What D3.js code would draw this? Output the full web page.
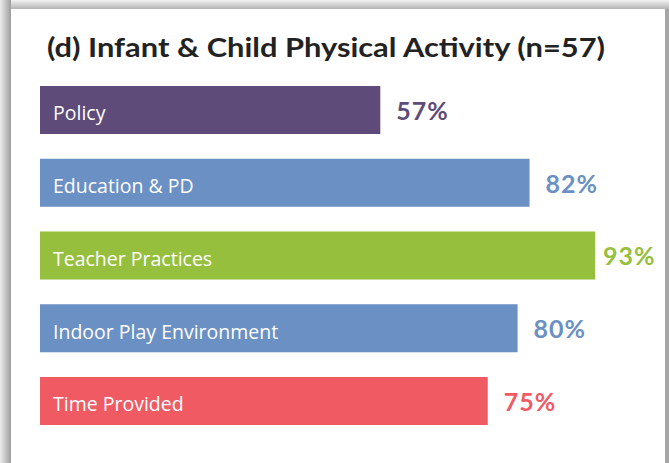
<!DOCTYPE html>
<html>
<head>
<meta charset="utf-8">
<script src="https://cdn.jsdelivr.net/npm/d3@7"></script>
<style>
  html, body { margin: 0; padding: 0; background: #ffffff; }
  svg { display: block; }
</style>
</head>
<body>
<svg id="chart" width="669" height="463"></svg>
<script>
// Share of programmes meeting each best-practice area
const titleText = "(d) Infant & Child Physical Activity (n=57)";
const categories = ["Policy", "Education & PD", "Teacher Practices", "Indoor Play Environment", "Time Provided"];
const values = [57, 82, 93, 80, 75];
const barColors = ["#5f4b79", "#6b90c4", "#95bf3d", "#6b90c4", "#ef5a63"];

const W = 669, H = 463;
const svg = d3.select("#chart");
const defs = svg.append("defs");

// Card with soft shadow on the left and top edges
const gLeft = defs.append("linearGradient").attr("id", "shadeLeft").attr("x1", 0).attr("x2", 1).attr("y1", 0).attr("y2", 0);
gLeft.append("stop").attr("offset", 0).attr("stop-color", "#ededed");
gLeft.append("stop").attr("offset", 1).attr("stop-color", "#9d9d9d");
const gTop = defs.append("linearGradient").attr("id", "shadeTop").attr("x1", 0).attr("x2", 0).attr("y1", 0).attr("y2", 1);
gTop.append("stop").attr("offset", 0).attr("stop-color", "#f2f2f2");
gTop.append("stop").attr("offset", 1).attr("stop-color", "#b4b4b4");

svg.append("rect").attr("x", 0).attr("y", 0).attr("width", W).attr("height", H).attr("fill", "#ffffff");
svg.append("rect").attr("x", 0).attr("y", 0).attr("width", W).attr("height", 9).attr("fill", "url(#shadeTop)");
svg.append("rect").attr("x", 0).attr("y", 0).attr("width", 11).attr("height", H).attr("fill", "url(#shadeLeft)");
svg.append("rect").attr("x", 665).attr("y", 9).attr("width", 4).attr("height", H - 9).attr("fill", "#a6a6a6");
svg.append("rect").attr("x", 11).attr("y", 9).attr("width", 654).attr("height", H - 9).attr("fill", "#ffffff");

// Title
svg.append("text")
  .attr("x", 47).attr("y", 57)
  .attr("font-family", "Lato, 'Open Sans', sans-serif")
  .attr("font-weight", 700)
  .attr("font-size", 27)
  .attr("fill", "#222222")
  .attr("textLength", 558)
  .attr("lengthAdjust", "spacingAndGlyphs")
  .text(titleText);

// Scales
const x = d3.scaleLinear().domain([0, 100]).range([40, 637]);
const y = d3.scaleBand().domain(categories).range([86, 425]).paddingInner(0.34).paddingOuter(0);

const rows = categories.map((c, i) => ({ cat: c, val: values[i], color: barColors[i] }));

const g = svg.append("g");

g.selectAll("rect.bar").data(rows).enter().append("rect")
  .attr("class", "bar")
  .attr("x", x(0))
  .attr("y", d => y(d.cat))
  .attr("width", d => x(d.val) - x(0))
  .attr("height", y.bandwidth())
  .attr("fill", d => d.color);

// Category names inside the bars
g.selectAll("text.cat").data(rows).enter().append("text")
  .attr("class", "cat")
  .attr("x", x(0) + 13)
  .attr("y", d => y(d.cat) + y.bandwidth() / 2 + 3.5)
  .attr("dy", "0.35em")
  .attr("font-family", "'Open Sans', Lato, sans-serif")
  .attr("font-size", 19.5)
  .attr("fill", "#ffffff")
  .text(d => d.cat);

// Percent labels beyond the bar ends
g.selectAll("text.val").data(rows).enter().append("text")
  .attr("class", "val")
  .attr("x", d => Math.min(x(d.val) + 16, 603))
  .attr("y", d => y(d.cat) + y.bandwidth() / 2 + 1)
  .attr("dy", "0.35em")
  .attr("font-family", "Lato, 'Open Sans', sans-serif")
  .attr("font-weight", 700)
  .attr("font-size", 25)
  .attr("letter-spacing", 1)
  .attr("fill", d => d.color)
  .text(d => d.val + "%");
</script>
</body>
</html>
